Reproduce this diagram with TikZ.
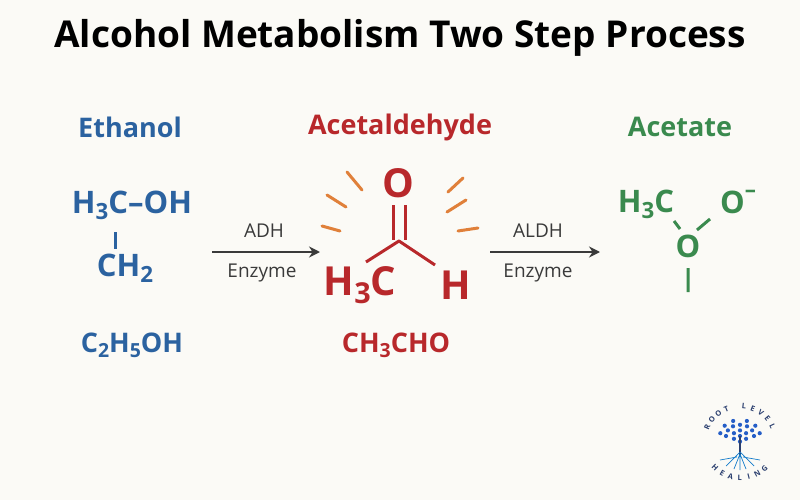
\documentclass[tikz,border=0pt]{standalone}
\usepackage{fontspec}
\usepackage{graphicx}
\setmainfont{Open Sans}
\usetikzlibrary{arrows.meta}
\definecolor{bg}{HTML}{FBFAF6}
\definecolor{eblue}{HTML}{2B62A0}
\definecolor{ared}{HTML}{B8282B}
\definecolor{agreen}{HTML}{3A8A4E}
\definecolor{ray}{HTML}{E0803A}
\definecolor{arr}{HTML}{3A3A3A}
\definecolor{logo}{HTML}{2A3E6E}
\newcommand\sbs[1]{\raisebox{-0.35ex}{\scalebox{0.72}{#1}}}
\newcommand\sps[1]{\raisebox{0.9ex}{\scalebox{0.72}{#1}}}
\begin{document}
\begin{tikzpicture}[x=1pt,y=-1pt,
  lbl/.style={font=\fontsize{27}{30}\selectfont\bfseries},
  chem/.style={font=\fontsize{31}{34}\selectfont\bfseries},
  big/.style={font=\fontsize{40}{44}\selectfont\bfseries},
  form/.style={font=\fontsize{27}{30}\selectfont\bfseries},
  enz/.style={font=\fontsize{19}{21}\selectfont, text=arr},
  bond/.style={line width=3pt},
  rays/.style={ray, line width=3pt, line cap=round},
  flow/.style={arr, line width=2.4pt, -{Stealth[length=11pt,width=11pt]}},
  logot/.style={font=\fontsize{7.5}{8}\selectfont\bfseries, text=logo, inner sep=0}]
\fill[bg] (0,0) rectangle (800,500);
\useasboundingbox (0,0) rectangle (800,500);
\node (title) at (400,38) {\fontsize{37}{40}\selectfont\bfseries Alcohol Metabolism Two Step Process};
% Ethanol
\node[lbl, text=eblue] (eth) at (130,127) {Ethanol};
\node[chem, text=eblue] (e1) at (132,205) {H\sbs{3}C--OH};
\node[chem, text=eblue] (e2) at (125,268) {CH\sbs{2}};
\draw[eblue, bond] (115,232) -- (115,249);
\node[form, text=eblue] (e3) at (132,345) {C\sbs{2}H\sbs{5}OH};
% Arrow 1
\coordinate (a1s) at (212,252); \coordinate (a1e) at (320,252);
\draw[flow] (a1s) -- (a1e);
\node[enz] (adh) at (264,231) {ADH};
\node[enz] (enz1) at (262,273) {Enzyme};
% Acetaldehyde
\node[lbl, text=ared] (ald) at (400,127) {Acetaldehyde};
\node[big, text=ared] (o) at (398,183) {O};
\draw[ared, bond] (393,205) -- (393,240) (405,205) -- (405,240);
\draw[ared, bond, line join=round] (366,262) -- (399,241) -- (435,265);
\node[big, text=ared] (h3c) at (360,285) {H\sbs{3}C};
\node[big, text=ared] (h) at (456,285) {H};
\node[form, text=ared] (acho) at (396,345) {CH\sbs{3}CHO};
\draw[rays] (347,172) -- (362,190);
\draw[rays] (327,195) -- (346,207);
\draw[rays] (322,226) -- (340,231);
\draw[rays] (448,192) -- (463,178);
\draw[rays] (447,212) -- (466,200);
\draw[rays] (458,231) -- (478,228);
% Arrow 2
\coordinate (a2s) at (490,252); \coordinate (a2e) at (600,252);
\draw[flow] (a2s) -- (a2e);
\node[enz] (aldh) at (538,231) {ALDH};
\node[enz] (enz2) at (538,273) {Enzyme};
% Acetate
\node[lbl, text=agreen] (ace) at (680,127) {Acetate};
\node[chem, text=agreen] (g1) at (646,204) {H\sbs{3}C};
\node[chem, text=agreen] (g2) at (738,202) {O\sps{--}};
\node[chem, text=agreen] (g3) at (688,246) {O};
\draw[agreen, bond] (674,221) -- (680,229) (697,230) -- (710,219) (688,268) -- (688,292);
% Logo
\begin{scope}[shift={(740,442)}]
  \foreach \ch [count=\i] in {R,O,O,T,{},L,E,V,E,L}
    \node[logot, rotate={156-(\i-1)*14.5-90}]
      (lt\i) at ({36*cos(156-(\i-1)*14.5)},{-36*sin(156-(\i-1)*14.5)}) {\ch};
  \foreach \ch [count=\i] in {H,E,A,L,I,N,G}
    \node[logot, rotate={226+(\i-1)*14.5+90}]
      (lb\i) at ({36*cos(226+(\i-1)*14.5)},{-36*sin(226+(\i-1)*14.5)}) {\ch};
  \foreach \a/\r in {0/0,30/7,90/7,150/7,210/7,270/7,330/7,0/14,30/14,60/14,90/14,120/14,150/14,180/14,10/20,40/20,70/20,110/20,140/20,170/20}
    \fill[blue!65!cyan!75!black, opacity=.85] ({\r*cos(\a)},{-6-\r*sin(\a)*0.8}) circle (2.1);
  \draw[logo, line width=1.6pt] (0,-6) -- (0,14);
  \draw[cyan!60!blue, line width=.7pt] (0,10) -- (-14,24) (0,10) -- (14,24) (0,12) -- (-6,27) (0,12) -- (6,27) (-3,15) -- (-20,18) (3,15) -- (20,18) (0,13) -- (0,28);
\end{scope}
\end{tikzpicture}
\end{document}
